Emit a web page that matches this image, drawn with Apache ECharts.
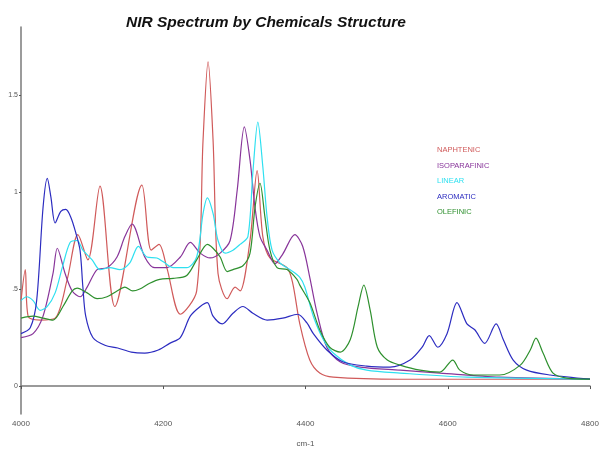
<!DOCTYPE html>
<html>
<head>
<meta charset="utf-8">
<script src="https://cdn.jsdelivr.net/npm/echarts@6/dist/echarts.min.js"></script>
<style>
  html, body { margin: 0; padding: 0; background: #fff; }
  #chart { width: 604px; height: 455px; }
</style>
</head>
<body>
<div id="chart"></div>
<script>
// wavenumber (cm-1), absorbance
var naphtenic = [[4000, .44], [4006, .60], [4010, .36], [4027, .34], [4048, .35], [4065, .55], [4080, .78],
    [4094, .65], [4111, 1.03], [4132, .41], [4170, 1.035], [4183, .70], [4194, .73], [4205, .61], [4224, .37],
    [4247, .49], [4256, 1.27], [4263, 1.67], [4270, 1.27], [4277, .58], [4290, .45], [4301, .51], [4308, .49],
    [4322, .75], [4332, 1.11], [4340, .77], [4350, .66], [4374, .61], [4382, .53], [4392, .32], [4406, .134],
    [4420, .067], [4439, .046], [4533, .035], [4800, .035]];
var isoparafinic = [[4000, .25], [4017, .27], [4031, .36], [4045, .58], [4051, .71], [4062, .58], [4072, .49],
    [4083, .46], [4093, .51], [4107, .60], [4121, .61], [4135, .665], [4146, .77], [4156, .835], [4174, .665],
    [4188, .61], [4205, .61], [4224, .665], [4238, .74], [4252, .685], [4266, .66], [4280, .685], [4294, .75],
    [4304, 1.01], [4314, 1.335], [4322, 1.165], [4329, .92], [4336, .77], [4346, .70], [4357, .63], [4368, .68],
    [4385, .78], [4396, .72], [4406, .56], [4416, .38], [4430, .20], [4449, .124], [4477, .098], [4533, .082],
    [4589, .067], [4673, .046], [4800, .036]];
var linear = [[4000, .44], [4008, .46], [4017, .44], [4027, .39], [4037, .41], [4048, .48], [4058, .61],
    [4069, .74], [4079, .75], [4087, .70], [4100, .65], [4111, .60], [4125, .61], [4139, .60], [4153, .635],
    [4165, .72], [4177, .665], [4191, .66], [4200, .64], [4214, .61], [4233, .61], [4247, .665], [4256, .89],
    [4262, .97], [4270, .89], [4277, .75], [4287, .685], [4298, .70], [4308, .73], [4319, .77], [4326, 1.10],
    [4333, 1.36], [4340, 1.13], [4346, .87], [4353, .70], [4364, .635], [4378, .60], [4392, .56], [4399, .51],
    [4411, .36], [4425, .24], [4439, .17], [4463, .108], [4486, .082], [4533, .067], [4627, .046], [4800, .036]];
var aromatic = [[4000, .27], [4013, .30], [4022, .44], [4031, .92], [4037, 1.07], [4042, .975], [4048, .84],
    [4056, .90], [4063, .91], [4070, .87], [4077, .79], [4083, .70], [4087, .51], [4091, .36], [4101, .25],
    [4118, .21], [4136, .196], [4155, .175], [4174, .17], [4193, .186], [4209, .22], [4224, .25], [4238, .36],
    [4252, .41], [4262, .43], [4270, .36], [4283, .32], [4298, .375], [4312, .41], [4326, .375], [4346, .34],
    [4368, .35], [4389, .37], [4402, .325], [4411, .27], [4430, .186], [4453, .124], [4486, .103], [4519, .098],
    [4547, .134], [4564, .20], [4574, .26], [4586, .20], [4599, .27], [4613, .43], [4627, .32], [4638, .29],
    [4652, .22], [4668, .32], [4678, .24], [4692, .134], [4711, .082], [4744, .057], [4800, .036]];
var olefinic = [[4000, .35], [4017, .36], [4031, .35], [4045, .34], [4059, .41], [4072, .49], [4079, .505],
    [4093, .48], [4107, .45], [4121, .46], [4135, .49], [4146, .51], [4157, .49], [4167, .50], [4181, .53],
    [4195, .55], [4214, .555], [4233, .57], [4247, .65], [4262, .73], [4270, .71], [4280, .665], [4290, .59],
    [4298, .60], [4312, .62], [4322, .685], [4329, .92], [4336, 1.045], [4343, .87], [4350, .70], [4360, .61],
    [4374, .60], [4388, .55], [4392, .52], [4406, .43], [4420, .29], [4434, .20], [4449, .175], [4463, .24],
    [4474, .41], [4482, .52], [4491, .39], [4501, .20], [4515, .134], [4533, .108], [4561, .082], [4589, .072],
    [4607, .134], [4617, .082], [4636, .057], [4673, .057], [4702, .108], [4716, .186], [4724, .247],
    [4734, .17], [4748, .067], [4768, .041], [4800, .036]];

var seriesNames = ['NAPHTENIC', 'ISOPARAFINIC', 'LINEAR', 'AROMATIC', 'OLEFINIC'];
var seriesData = [naphtenic, isoparafinic, linear, aromatic, olefinic];
var colors = ['#d05a5a', '#88359a', '#2ee0f0', '#2c2cc0', '#2e902e'];
var yTicks = [0, 0.5, 1, 1.5];

var chart = echarts.init(document.getElementById('chart'));

var option = {
    animation: false,
    backgroundColor: '#fff',
    title: {
        text: 'NIR Spectrum by Chemicals Structure',
        left: 121,
        top: 10,
        textStyle: {
            fontFamily: 'Liberation Sans, Arial, sans-serif',
            fontSize: 15.5,
            fontWeight: 'bold',
            fontStyle: 'italic',
            color: '#111'
        }
    },
    legend: {
        orient: 'vertical',
        left: 427,
        top: 140,
        itemWidth: 0,
        itemHeight: 10,
        itemGap: 6.5,
        selectedMode: false,
        data: seriesNames.map(function (n, i) {
            return { name: n, icon: 'none', textStyle: { color: colors[i] } };
        }),
        textStyle: {
            fontFamily: 'Liberation Sans, Arial, sans-serif',
            fontSize: 7.5
        }
    },
    grid: { left: 21, right: 14, top: 27, bottom: 41 },
    xAxis: {
        type: 'value',
        min: 4000,
        max: 4800,
        interval: 200,
        name: 'cm-1',
        nameLocation: 'middle',
        nameGap: 26,
        nameTextStyle: { fontSize: 8, color: '#555', fontFamily: 'Liberation Sans, Arial, sans-serif' },
        splitLine: { show: false },
        axisLine: { lineStyle: { color: '#7a7a7a', width: 1.5 } },
        axisTick: { length: 3, lineStyle: { color: '#555' } },
        axisLabel: {
            fontSize: 8, color: '#555', margin: 6,
            fontFamily: 'Liberation Sans, Arial, sans-serif',
            formatter: function (v) { return String(v); }
        }
    },
    yAxis: {
        type: 'value',
        min: -0.144,
        max: 1.85,
        splitLine: { show: false },
        axisLine: { show: true, lineStyle: { color: '#7a7a7a', width: 1.5 } },
        axisTick: { show: true, length: 2, customValues: yTicks, lineStyle: { color: '#555' } },
        axisLabel: {
            fontSize: 7, color: '#555', margin: 3,
            fontFamily: 'Liberation Sans, Arial, sans-serif',
            customValues: yTicks,
            formatter: function (v) {
                return v === 0 ? '0' : String(v).replace(/^0/, '');
            }
        }
    },
    series: seriesNames.map(function (n, i) {
        return {
            name: n,
            type: 'line',
            data: seriesData[i],
            smooth: 0.3,
            symbol: 'none',
            lineStyle: { color: colors[i], width: 1.2 },
            itemStyle: { color: colors[i] }
        };
    })
};
chart.setOption(option);
</script>
</body>
</html>
